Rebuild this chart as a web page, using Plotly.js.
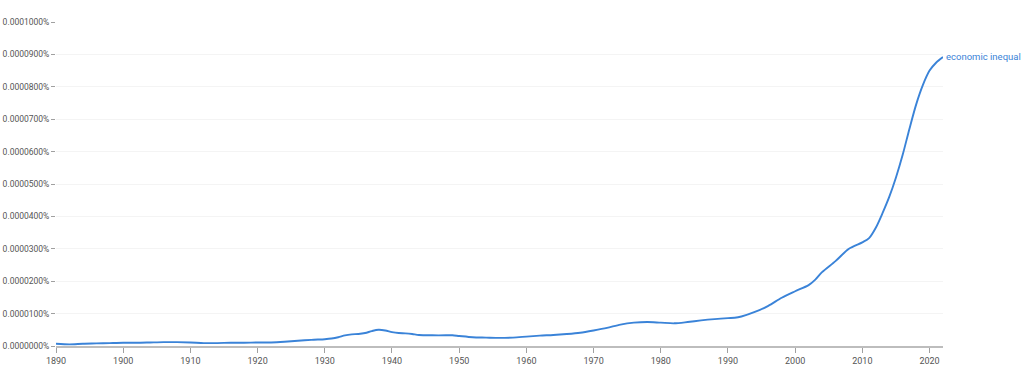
<!DOCTYPE html>
<html>
<head>
<meta charset="utf-8">
<script src="https://cdn.plot.ly/plotly-3.0.1.min.js"></script>
<style>html,body{margin:0;padding:0;background:#fff;}#chart{width:1022px;height:368px;}</style>
</head>
<body>
<div id="chart"></div>
<script>
const seriesName = "economic inequal";
const years = [1890,1892,1894,1896,1898,1900,1902,1904,1906,1908,1910,1912,1914,1916,1918,1920,1922,1924,1926,1928,1930,1931,1932,1933,1934,1935,1936,1937,1938,1939,1940,1941,1942,1943,1944,1946,1948,1949,1950,1952,1954,1956,1958,1960,1962,1964,1966,1968,1970,1972,1974,1976,1978,1980,1982,1984,1986,1988,1990,1991,1992,1994,1996,1998,2000,2002,2003,2004,2006,2008,2010,2011,2012,2013,2014,2015,2016,2017,2018,2019,2020,2021,2022];
const valuesPct = [0.7e-6,0.5e-6,0.7e-6,0.8e-6,0.9e-6,1.0e-6,1.0e-6,1.1e-6,1.2e-6,1.2e-6,1.1e-6,0.9e-6,0.9e-6,1.0e-6,1.0e-6,1.1e-6,1.1e-6,1.3e-6,1.6e-6,1.9e-6,2.1e-6,2.3e-6,2.7e-6,3.3e-6,3.6e-6,3.7e-6,4.0e-6,4.6e-6,5.0e-6,4.8e-6,4.3e-6,4.0e-6,3.9e-6,3.7e-6,3.4e-6,3.3e-6,3.3e-6,3.3e-6,3.1e-6,2.7e-6,2.6e-6,2.5e-6,2.6e-6,2.9e-6,3.2e-6,3.4e-6,3.7e-6,4.1e-6,4.8e-6,5.6e-6,6.6e-6,7.2e-6,7.4e-6,7.2e-6,7.0e-6,7.4e-6,7.9e-6,8.3e-6,8.6e-6,8.7e-6,9.1e-6,10.5e-6,12.4e-6,14.9e-6,16.9e-6,18.8e-6,20.5e-6,22.8e-6,26.2e-6,30.0e-6,32.0e-6,33.3e-6,36.5e-6,41e-6,46e-6,52e-6,59e-6,67e-6,74.5e-6,80.5e-6,85e-6,87.5e-6,89.2e-6];
const yTickVals = [0,0.00001,0.00002,0.00003,0.00004,0.00005,0.00006,0.00007,0.00008,0.00009,0.0001];
const yTickText = ["0.0000000%","0.0000100%","0.0000200%","0.0000300%","0.0000400%","0.0000500%","0.0000600%","0.0000700%","0.0000800%","0.0000900%","0.0001000%"];
const xTickVals = [1890,1900,1910,1920,1930,1940,1950,1960,1970,1980,1990,2000,2010,2020];

const lineColor = '#3a83d8';
const trace = {
  x: years, y: valuesPct, type: 'scatter', mode: 'lines', name: seriesName,
  line: {color: lineColor, width: 1.9, shape: 'spline', smoothing: 0.8},
  hoverinfo: 'skip'
};
const layout = {
  width: 1022, height: 368,
  margin: {l: 56, r: 79, t: 22, b: 22},
  paper_bgcolor: '#fff', plot_bgcolor: '#fff',
  showlegend: false,
  font: {family: 'Roboto, Arial, sans-serif', size: 9, color: '#555'},
  xaxis: {
    range: [1890, 2022], tickvals: xTickVals, ticktext: xTickVals.map(String),
    showgrid: false, zeroline: false,
    showline: true, linecolor: '#bdbdbd', linewidth: 2,
    ticks: 'outside', ticklen: 5, tickcolor: '#a0a0a0', tickwidth: 1,
    tickfont: {size: 9, color: '#555'}, fixedrange: true
  },
  yaxis: {
    range: [0, 0.0001], tickvals: yTickVals, ticktext: yTickText,
    showgrid: true, gridcolor: '#f4f4f4', gridwidth: 1,
    zeroline: false, showline: false,
    ticks: 'outside', ticklen: 4, tickcolor: '#a0a0a0', tickwidth: 1,
    tickfont: {size: 8.5, color: '#555'}, fixedrange: true
  },
  annotations: [{
    x: years[years.length-1], y: valuesPct[valuesPct.length-1], xref: 'x', yref: 'y',
    text: seriesName, showarrow: false, xanchor: 'left', yanchor: 'middle', xshift: 1,
    font: {family: 'Roboto, Arial, sans-serif', size: 9.5, color: lineColor}
  }]
};
Plotly.newPlot('chart', [trace], layout, {displayModeBar: false, staticPlot: true});
</script>
</body>
</html>
